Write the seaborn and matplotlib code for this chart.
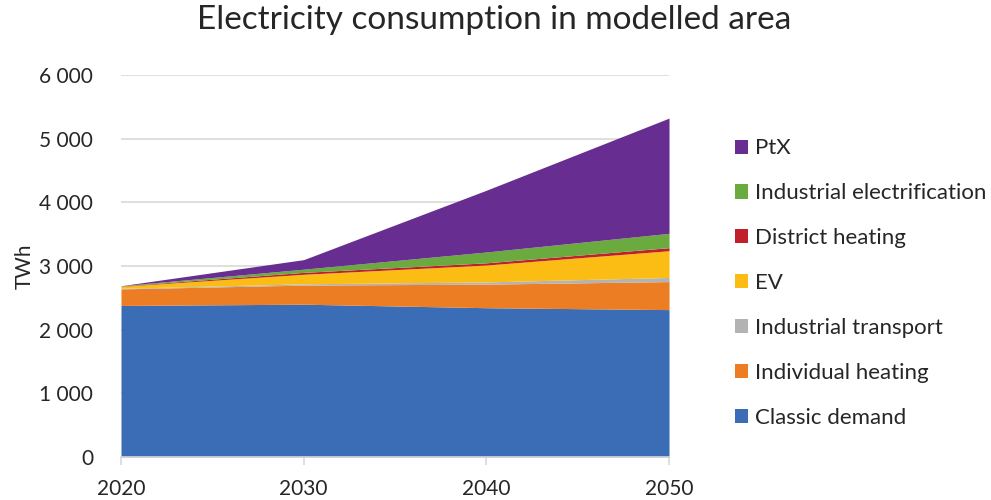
import matplotlib
matplotlib.use("Agg")
import matplotlib.pyplot as plt
import matplotlib.ticker as mticker
from matplotlib.patches import Patch
import seaborn as sns

# Values (TWh, stacked layers)
years = [2020, 2030, 2040, 2050]
classic_demand = [2380, 2400, 2345, 2315]
individual_heating = [260, 300, 370, 440]
industrial_transport = [10, 20, 35, 65]
ev = [30, 150, 265, 420]
district_heating = [5, 30, 35, 48]
industrial_electrification = [5, 50, 170, 225]
ptx = [0, 150, 970, 1810]

labels = ["Classic demand", "Individual heating", "Industrial transport", "EV",
          "District heating", "Industrial electrification", "PtX"]
colors = ["#3A6DB5", "#ED7D22", "#B3B3B3", "#FBBC14", "#C0202A", "#6AAA3E", "#672D91"]

sns.set_theme(style="white")
plt.rcParams['font.family'] = ['Lato', 'DejaVu Sans']

fig = plt.figure(figsize=(9.91, 5.0), dpi=100)
ax = fig.add_axes([0.1221, 0.086, 0.5530, 0.764])

ax.stackplot(years, classic_demand, individual_heating, industrial_transport, ev,
             district_heating, industrial_electrification, ptx,
             colors=colors, linewidth=0, zorder=2)

ax.set_xlim(2020, 2050)
ax.set_ylim(0, 6000)
ax.set_xticks(years)
ax.set_yticks(range(0, 6001, 1000))
ax.yaxis.set_major_formatter(mticker.FuncFormatter(lambda v, p: f"{int(v):,}".replace(",", " ")))
ax.grid(axis='y', color='#D9D9D9', linewidth=1.2, zorder=0)
ax.set_axisbelow(True)

for s in ['top', 'right', 'left']:
    ax.spines[s].set_visible(False)
ax.spines['bottom'].set_color('#D9D9D9')
ax.spines['bottom'].set_linewidth(1.2)
ax.spines['bottom'].set_zorder(3)

ax.tick_params(axis='x', which='major', length=6, color='#D9D9D9', width=1.2,
               labelsize=15, pad=10, bottom=True)
ax.tick_params(axis='y', length=0, labelsize=15, pad=20)
ax.set_ylabel("TWh", fontsize=15, labelpad=3)

fig.suptitle("Electricity consumption in modelled area", fontsize=24, x=0.499, y=0.99)

handles = [Patch(facecolor=c, edgecolor='none') for c in colors][::-1]
fig.legend(handles, labels[::-1], loc='upper left', bbox_to_anchor=(0.7327, 0.741),
           frameon=False, fontsize=16, handlelength=0.6, handleheight=0.6,
           handletextpad=0.3, labelspacing=1.12, borderaxespad=0)

fig.savefig("out.png", dpi=100)
